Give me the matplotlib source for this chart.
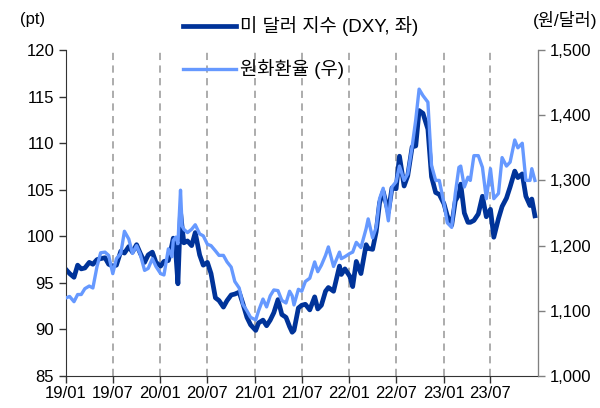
import matplotlib
matplotlib.use("Agg")
import matplotlib.pyplot as plt
from matplotlib.ticker import FuncFormatter
import pandas as pd

plt.rcParams['font.family'] = ['Liberation Sans', 'Noto Sans CJK KR', 'DejaVu Sans']

# semi-monthly readings (date, DXY pt, KRW per USD)
dates = [
    # 2019
    "2019-01-02", "2019-01-15", "2019-02-01", "2019-02-15", "2019-03-01", "2019-03-15",
    "2019-04-01", "2019-04-15", "2019-05-01", "2019-05-15", "2019-06-01", "2019-06-15",
    "2019-07-01", "2019-07-15", "2019-08-01", "2019-08-15", "2019-09-01", "2019-09-15",
    "2019-10-01", "2019-10-15", "2019-11-01", "2019-11-15", "2019-12-01", "2019-12-15",
    # 2020
    "2020-01-02", "2020-01-15", "2020-02-01", "2020-02-15", "2020-02-20", "2020-03-01",
    "2020-03-09", "2020-03-19", "2020-03-25", "2020-04-01", "2020-04-15", "2020-05-01",
    "2020-05-15", "2020-06-01", "2020-06-15", "2020-07-01", "2020-07-15", "2020-08-01",
    "2020-08-15", "2020-09-01", "2020-09-15", "2020-10-01", "2020-10-15", "2020-11-01",
    "2020-11-15", "2020-12-01", "2020-12-15",
    # 2021
    "2021-01-04", "2021-01-15", "2021-02-01", "2021-02-15", "2021-03-01", "2021-03-15",
    "2021-03-31", "2021-04-15", "2021-05-01", "2021-05-15", "2021-05-25", "2021-06-01",
    "2021-06-18", "2021-07-01", "2021-07-15", "2021-08-01", "2021-08-20", "2021-09-01",
    "2021-09-15", "2021-10-01", "2021-10-12", "2021-11-01", "2021-11-24", "2021-12-01",
    "2021-12-15",
    # 2022
    "2022-01-03", "2022-01-14", "2022-01-28", "2022-02-15", "2022-03-07", "2022-03-15",
    "2022-04-01", "2022-04-15", "2022-04-28", "2022-05-12", "2022-06-01", "2022-06-15",
    "2022-07-01", "2022-07-14", "2022-08-01", "2022-08-15", "2022-09-01", "2022-09-15",
    "2022-09-28", "2022-10-13", "2022-11-01", "2022-11-15", "2022-12-01", "2022-12-15",
    # 2023
    "2023-01-02", "2023-01-15", "2023-02-01", "2023-02-15", "2023-03-01", "2023-03-08",
    "2023-03-22", "2023-04-05", "2023-04-14", "2023-04-28", "2023-05-15", "2023-05-31",
    "2023-06-15", "2023-07-01", "2023-07-14", "2023-08-01", "2023-08-15", "2023-09-01",
    "2023-09-15", "2023-10-03", "2023-10-15", "2023-11-01", "2023-11-15", "2023-12-01",
    "2023-12-08", "2023-12-20",
]

dxy = [
    96.4, 96.0, 95.6, 96.9, 96.5, 96.6,
    97.2, 97.0, 97.5, 97.6, 97.7, 97.0,
    96.8, 96.9, 98.4, 98.2, 98.9, 98.3,
    99.1, 98.2, 97.2, 98.0, 98.3, 97.2,
    96.8, 97.3, 97.4, 99.1, 99.8, 98.1,
    94.9, 102.6, 101.0, 99.3, 99.5, 99.0,
    100.4, 98.0, 96.9, 97.2, 96.0, 93.4,
    93.1, 92.4, 93.1, 93.7, 93.8, 94.0,
    92.8, 91.3, 90.5,
    89.9, 90.7, 91.0, 90.4, 91.0, 91.8,
    93.2, 91.6, 91.3, 90.3, 89.7, 89.9,
    92.3, 92.6, 92.7, 92.1, 93.5, 92.2,
    92.6, 94.1, 94.5, 94.1, 96.8, 95.9,
    96.5,
    95.7, 94.6, 97.3, 96.0, 99.1, 98.7,
    98.6, 100.5, 103.6, 104.8, 102.6, 105.2,
    105.1, 108.6, 105.4, 106.5, 109.6, 109.7,
    113.5, 113.2, 111.5, 106.4, 104.7, 104.5,
    103.5, 102.2, 101.2, 103.8, 104.5, 105.6,
    102.5, 101.5, 101.5, 101.7, 102.4, 104.3,
    102.1, 102.9, 99.9, 101.9, 103.2, 104.1,
    105.3, 107.0, 106.3, 106.7, 104.3, 103.3,
    104.0, 102.2,
]

krw = [
    1120, 1122, 1114, 1125, 1125, 1134,
    1138, 1135, 1168, 1189, 1190, 1185,
    1157, 1180, 1188, 1222, 1210, 1188,
    1200, 1187, 1162, 1165, 1180, 1168,
    1157, 1155, 1195, 1183, 1208, 1213,
    1203, 1285, 1230, 1225, 1220, 1225,
    1232, 1218, 1215, 1202, 1200, 1192,
    1185, 1185, 1175, 1167, 1145, 1135,
    1110, 1100, 1090,
    1086, 1100, 1118, 1106, 1123, 1132,
    1131, 1116, 1112, 1130, 1123, 1109,
    1133, 1130, 1145, 1150, 1175, 1160,
    1170, 1185, 1198, 1168, 1190, 1180,
    1183,
    1188, 1190, 1205, 1197, 1226, 1241,
    1212, 1228, 1272, 1288, 1238, 1290,
    1298, 1322, 1300, 1310, 1352, 1393,
    1440, 1430, 1420, 1323, 1300, 1300,
    1265, 1235, 1228, 1280, 1320, 1322,
    1290, 1305, 1300, 1338, 1338, 1320,
    1272, 1318, 1272, 1280, 1335, 1322,
    1328, 1362, 1350, 1357, 1300, 1300,
    1318, 1300,
]

tick_labels = ["19/01", "19/07", "20/01", "20/07", "21/01",
               "21/07", "22/01", "22/07", "23/01", "23/07"]

x = pd.to_datetime(dates)
ticks = pd.to_datetime(["20" + t.replace("/", "-") + "-01" for t in tick_labels])

dark = "#003399"
light = "#6699ff"

fig = plt.figure(figsize=(6, 4.08), dpi=100)
ax = fig.add_axes([0.11, 0.0784, 0.7867, 0.799])
ax2 = ax.twinx()

# dashed guides at each half-year
for t in ticks[1:]:
    ax.axvline(t, color="#a6a6a6", linestyle=(0, (4, 3)), linewidth=1.3, zorder=0)

l1, = ax.plot(x, dxy, color=dark, linewidth=3.4, solid_joinstyle="round")
l2, = ax2.plot(x, krw, color=light, linewidth=2.4, solid_joinstyle="round")

ax.set_xlim(pd.Timestamp("2019-01-01"), pd.Timestamp("2024-01-01"))
ax.set_ylim(85, 120)
ax2.set_ylim(1000, 1500)
ax.set_yticks(range(85, 121, 5))
ax2.set_yticks(range(1000, 1501, 100))
ax2.yaxis.set_major_formatter(FuncFormatter(lambda v, p: f"{int(v):,}"))
ax.set_xticks(ticks)
ax.set_xticklabels(tick_labels)

for a in (ax, ax2):
    a.spines["top"].set_visible(False)
    a.tick_params(labelsize=12, length=5, width=1, colors="#333333", labelcolor="black")
ax.spines["left"].set_color("#333333")
ax.spines["bottom"].set_color("#333333")
ax2.spines["right"].set_color("#808080")
ax2.spines["left"].set_visible(False)
ax2.spines["bottom"].set_visible(False)
ax2.tick_params(axis="y", colors="#808080", labelcolor="black")
ax.tick_params(axis="x", pad=2)

fig.text(0.033, 0.951, "(pt)", fontsize=12, ha="left", va="center")
fig.text(0.995, 0.951, "(원/달러)", fontsize=12.5, ha="right", va="center")

fig.legend([l1, l2], ["미 달러 지수 (DXY, 좌)", "원화환율 (우)"],
           loc="upper left", bbox_to_anchor=(0.305, 0.96), frameon=False,
           fontsize=13.5, handlelength=2.8, handletextpad=0.25,
           labelspacing=1.22, borderpad=0, borderaxespad=0)

fig.savefig("out.png", dpi=100)
